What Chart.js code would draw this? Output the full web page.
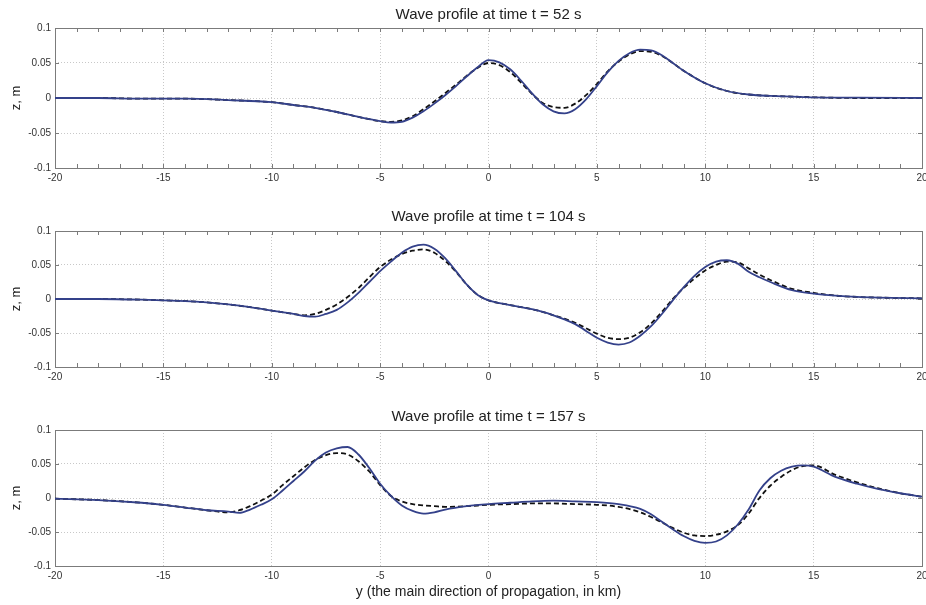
<!DOCTYPE html>
<html>
<head>
<meta charset="utf-8">
<script src="https://cdn.jsdelivr.net/npm/chart.js@4.4.1/dist/chart.umd.min.js"></script>
<style>
  html, body { margin: 0; padding: 0; background: #fff; overflow: hidden; width: 926px; height: 605px; }
  canvas { position: absolute; left: 0; }
</style>
</head>
<body>
<canvas id="c52" width="932" height="196" style="top:0px"></canvas>
<canvas id="c104" width="932" height="195" style="top:200px"></canvas>
<canvas id="c157" width="932" height="205" style="top:400px"></canvas>
<script>
// y positions in km, wave elevation z in m (solid = blue curve, dashed = black curve)
var y52 = [-20,-18,-16,-14,-12,-10,-9,-8,-7,-6,-5,-4.5,-4,-3.5,-3,-2.5,-2,-1.5,-1,-0.5,0,0.5,1,1.5,2,2.5,3,3.5,4,4.5,5,5.5,6,6.5,7,7.5,8,8.5,9,10,11,12,13,14,15,17,20];
var solid52 = [0,0,-0.001,-0.001,-0.003, -0.006,-0.010,-0.014,-0.020,-0.027, -0.033,-0.035,-0.034,-0.028,-0.019, -0.008,0.004,0.017,0.031,0.044, 0.054,0.051,0.041,0.025,0.007, -0.009,-0.019,-0.022,-0.016,-0.002, 0.017,0.037,0.053,0.064,0.069, 0.068,0.061,0.050,0.039,0.021, 0.010,0.005,0.003,0.002,0.001, 0.0005,0];
var dashed52 = [0,0,-0.001,-0.001,-0.003, -0.006,-0.010,-0.014,-0.020,-0.027, -0.033,-0.034,-0.032,-0.026,-0.016, -0.005,0.007,0.019,0.032,0.043, 0.050,0.047,0.037,0.022,0.006, -0.007,-0.013,-0.014,-0.008,0.004, 0.020,0.038,0.052,0.062,0.067, 0.066,0.060,0.050,0.039,0.021, 0.010,0.005,0.003,0.002,0.001, 0,0];

var y104 = [-20,-18,-16,-15,-14,-13,-12,-11,-10,-9,-8.5,-8,-7.5,-7,-6.5,-6,-5.5,-5,-4.5,-4,-3.5,-3,-2.5,-2,-1.5,-1,-0.5,0,0.5,1,1.5,2,2.5,3,3.5,4,4.5,5,5.5,6,6.5,7,7.5,8,8.5,9,9.5,10,10.5,11,11.5,12,12.5,13,14,15,16,17,18,20];
var solid104 = [0,0,-0.001,-0.002,-0.003,-0.005,-0.008,-0.012,-0.017,-0.022, -0.025,-0.026,-0.022,-0.016,-0.005, 0.009,0.025,0.041,0.055,0.068, 0.077,0.080,0.074,0.060,0.041, 0.021,0.006,-0.002,-0.006,-0.009, -0.012,-0.015,-0.019,-0.024,-0.030, -0.037,-0.047,-0.057,-0.064,-0.067, -0.064,-0.054,-0.040,-0.022,-0.002, 0.017,0.034,0.047,0.055,0.057, 0.052,0.040,0.032,0.025,0.013, 0.008,0.005,0.003,0.002,0.001];
var dashed104 = [0,0,-0.001,-0.002,-0.003,-0.005,-0.008,-0.012,-0.017,-0.022, -0.024,-0.022,-0.016,-0.008,0.003, 0.016,0.032,0.047,0.058,0.066, 0.071,0.073,0.068,0.056,0.040, 0.021,0.006,-0.002,-0.006,-0.009, -0.012,-0.015,-0.019,-0.024,-0.029, -0.035,-0.043,-0.051,-0.057,-0.059, -0.057,-0.049,-0.036,-0.019,0.000, 0.016,0.030,0.042,0.050,0.055, 0.054,0.045,0.036,0.028,0.015, 0.009,0.005,0.003,0.002,0.001];

var y157 = [-20,-18,-16,-15,-14,-13,-12,-11.5,-11,-10.5,-10,-9.5,-9,-8.5,-8,-7.5,-7,-6.5,-6,-5.5,-5,-4.5,-4,-3.5,-3,-2.5,-2,-1,0,1,2,3,4,5,6,7,7.5,8,8.5,9,9.5,10,10.5,11,11.5,12,12.5,13,13.5,14,14.5,15,16,17,18,19,20];
var solid157 = [-0.001,-0.003,-0.007,-0.010,-0.014, -0.018,-0.020,-0.022,-0.017,-0.010, -0.002,0.011,0.025,0.039,0.055, 0.067,0.073,0.075,0.064,0.044, 0.021,0.003,-0.011,-0.019,-0.023, -0.021,-0.017,-0.012,-0.009,-0.007, -0.005,-0.004,-0.005,-0.006,-0.009, -0.016,-0.024,-0.035,-0.046,-0.056, -0.063,-0.066,-0.064,-0.055,-0.039, -0.017,0.011,0.029,0.040,0.046, 0.048,0.046,0.031,0.021,0.013, 0.007,0.002];
var dashed157 = [-0.001,-0.003,-0.007,-0.010,-0.014, -0.018,-0.021,-0.018,-0.012,-0.004, 0.005,0.019,0.032,0.045,0.056, 0.063,0.066,0.064,0.054,0.039, 0.019,0.003,-0.005,-0.009,-0.011, -0.012,-0.013,-0.012,-0.010,-0.009, -0.008,-0.008,-0.009,-0.010,-0.013, -0.021,-0.028,-0.036,-0.044,-0.051, -0.055,-0.056,-0.054,-0.049,-0.040, -0.023,0.000,0.018,0.031,0.041, 0.047,0.048,0.034,0.023,0.014, 0.007,0.002];

var xTicks = [-20, -15, -10, -5, 0, 5, 10, 15, 20];
var zTicks = [-0.1, -0.05, 0, 0.05, 0.1];

var FONT = "'Liberation Sans', Arial, sans-serif";

// box round the axes plus the short inward tick marks
var matlabFrame = {
	id: 'matlabFrame',
	beforeDatasetsDraw: function (chart, args, opts) {
		var ctx = chart.ctx, a = chart.chartArea;
		var xs = chart.scales.x, ys = chart.scales.y;
		ctx.save();
		ctx.strokeStyle = '#7b7b7b';
		ctx.lineWidth = 1;
		ctx.beginPath();
		if (opts.xMinor) {
			for (var v = xTicks[0]; v <= xTicks[xTicks.length - 1]; v += 1) {
				var px = Math.round(xs.getPixelForValue(v)) + 0.5;
				ctx.moveTo(px, a.top); ctx.lineTo(px, a.top + 4);
				ctx.moveTo(px, a.bottom); ctx.lineTo(px, a.bottom - 4);
			}
		}
		zTicks.forEach(function (t) {
			var py = Math.round(ys.getPixelForValue(t)) + 0.5;
			ctx.moveTo(a.left, py); ctx.lineTo(a.left + 4, py);
			ctx.moveTo(a.right, py); ctx.lineTo(a.right - 4, py);
		});
		ctx.stroke();
		ctx.strokeRect(Math.round(a.left) + 0.5, Math.round(a.top) + 0.5, Math.round(a.right - a.left), Math.round(a.bottom - a.top));
		ctx.restore();
	}
};

function points(xs, zs) {
	return xs.map(function (x, i) { return { x: x, y: zs[i] }; });
}

function makeChart(id, xs, solid, dashed, title, opts) {
	var ctx = document.getElementById(id).getContext('2d');
	return new Chart(ctx, {
		type: 'line',
		data: {
			datasets: [{
				label: 'solid',
				data: points(xs, solid),
				borderColor: '#34418a',
				borderWidth: 1.8,
				pointRadius: 0,
				cubicInterpolationMode: 'monotone',
				fill: false
			}, {
				label: 'dashed',
				data: points(xs, dashed),
				borderColor: '#111111',
				borderWidth: 1.8,
				borderDash: [5, 3],
				pointRadius: 0,
				cubicInterpolationMode: 'monotone',
				fill: false
			}]
		},
		options: {
			responsive: false,
			animation: false,
			devicePixelRatio: 1,
			layout: { padding: { left: 0, right: 10, top: 0, bottom: 0 } },
			plugins: {
				legend: { display: false },
				tooltip: { enabled: false },
				title: {
					display: true,
					text: title,
					fullSize: false,
					color: '#222',
					font: { family: FONT, size: 15, weight: 'normal' },
					padding: opts.titlePad
				},
				matlabFrame: { xMinor: opts.xMinor }
			},
			scales: {
				x: {
					type: 'linear',
					min: -20,
					max: 20,
					afterBuildTicks: function (scale) {
						scale.ticks = xTicks.map(function (v) { return { value: v }; });
					},
					afterFit: function (scale) { scale.height = opts.xHeight; },
					grid: { color: '#c8c8c8', lineWidth: 1, drawTicks: false },
					border: { display: false, dash: [1, 2] },
					ticks: {
						autoSkip: false,
						maxRotation: 0,
						padding: 4,
						color: '#333',
						font: { family: FONT, size: 10 },
						callback: function (v) { return String(v); }
					},
					title: {
						display: !!opts.xTitle,
						text: opts.xTitle || '',
						color: '#222',
						font: { family: FONT, size: 14 },
						padding: { top: 0, bottom: 4 }
					}
				},
				y: {
					min: -0.1,
					max: 0.1,
					afterBuildTicks: function (scale) {
						scale.ticks = zTicks.map(function (v) { return { value: v }; });
					},
					afterFit: function (scale) { scale.width = 55; },
					grid: { color: '#c8c8c8', lineWidth: 1, drawTicks: false },
					border: { display: false, dash: [1, 2] },
					ticks: {
						padding: 4,
						color: '#333',
						font: { family: FONT, size: 10 },
						callback: function (v) { return String(+v.toFixed(2)); }
					},
					title: {
						display: true,
						text: 'z, m',
						color: '#222',
						font: { family: FONT, size: 13 },
						padding: { top: 9, bottom: 0 }
					}
				}
			}
		},
		plugins: [matlabFrame]
	});
}

makeChart('c52', y52, solid52, dashed52, 'Wave profile at time t = 52 s',
	{ titlePad: { top: 6, bottom: 4 }, xHeight: 28, xMinor: true });
makeChart('c104', y104, solid104, dashed104, 'Wave profile at time t = 104 s',
	{ titlePad: { top: 8, bottom: 5 }, xHeight: 28, xMinor: true });
makeChart('c157', y157, solid157, dashed157, 'Wave profile at time t = 157 s',
	{ titlePad: { top: 8, bottom: 4 }, xHeight: 39, xMinor: false, xTitle: 'y (the main direction of propagation, in km)' });
</script>
</body>
</html>
